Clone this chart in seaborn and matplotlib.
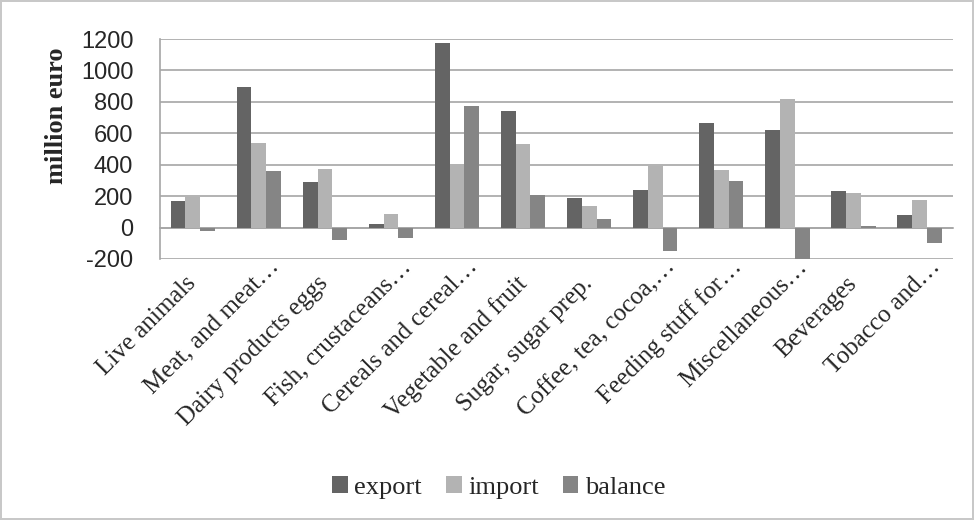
import pandas as pd
import matplotlib
matplotlib.use('Agg')
import matplotlib.pyplot as plt
import matplotlib.transforms as mtransforms
import seaborn as sns
import numpy as np

# product groups (labels as cut off in the original chart)
categories = ['Live animals', 'Meat, and meat…', 'Dairy products eggs',
              'Fish, crustaceans…', 'Cereals and cereal…', 'Vegetable and fruit',
              'Sugar, sugar prep.', 'Coffee, tea, cocoa,…', 'Feeding stuff for…',
              'Miscellaneous…', 'Beverages', 'Tobacco and…']

export_vals = [172, 896, 293, 21, 1177, 741, 187, 238, 665, 622, 232, 81]
import_vals = [195, 540, 370, 83, 404, 531, 134, 389, 367, 820, 221, 174]
balance_vals = [-23, 357, -81, -64, 771, 210, 53, -149, 297, -200, 8, -96]

series_names = ['export', 'import', 'balance']
y_ticks = [-200, 0, 200, 400, 600, 800, 1000, 1200]

'''
long format for seaborn
'''
df = pd.DataFrame({'category': categories,
                   'export': export_vals,
                   'import': import_vals,
                   'balance': balance_vals})
long_df = df.melt(id_vars='category', value_vars=series_names,
                  var_name='series', value_name='value')

sns.set_style('white')
serif = ['Liberation Serif', 'DejaVu Serif']
plt.rcParams['font.family'] = ['Liberation Sans', 'DejaVu Sans']
plt.rcParams['axes.unicode_minus'] = False

fig = plt.figure(figsize=(9.74, 5.2), dpi=100)
fig.patch.set_edgecolor('#c8c8c8')
fig.patch.set_linewidth(1.5)
ax = fig.add_axes([0.164, 0.502, 0.814, 0.423])

colors = {'export': '#646464', 'import': '#b3b3b3', 'balance': '#858585'}
sns.barplot(data=long_df, x='category', y='value', hue='series',
            hue_order=series_names, palette=colors, width=0.67, gap=0,
            edgecolor='none', ax=ax, zorder=3)

ax.set_ylim(-200, 1200)
ax.set_yticks(y_ticks)
ax.set_xlim(-0.5, len(categories) - 0.5)
ax.yaxis.grid(True, color='#a6a6a6', linewidth=1.2, zorder=0)
ax.set_axisbelow(True)

for s in ['top', 'right']:
    ax.spines[s].set_visible(False)
ax.spines['left'].set_color('#a6a6a6')
ax.spines['left'].set_linewidth(1.2)
ax.spines['bottom'].set_position(('data', 0))
ax.spines['bottom'].set_color('#a6a6a6')
ax.spines['bottom'].set_linewidth(1.2)

ax.tick_params(axis='y', length=0, pad=19, labelsize=17)

# tick marks between categories, labels at category centres
ax.set_xticks(np.arange(len(categories) + 1) - 0.5)
ax.set_xticklabels([])
ax.tick_params(axis='x', which='major', direction='out', length=7,
               color='#a6a6a6', width=1.2)
ax.set_xticks(np.arange(len(categories)), minor=True)
ax.set_xticklabels(categories, minor=True, rotation=45, ha='right',
                   va='center', rotation_mode='anchor', family=serif,
                   fontsize=18)
ax.tick_params(axis='x', which='minor', length=0, pad=38)

# truncated labels: the ellipsis sticks out past the category centre
shift = mtransforms.ScaledTranslation(0.17, 0.17, fig.dpi_scale_trans)
for lab in ax.get_xticklabels(minor=True):
    if lab.get_text().endswith('…'):
        lab.set_transform(lab.get_transform() + shift)

ax.set_xlabel('')
ax.set_ylabel('million euro', family=serif, fontweight='bold', fontsize=19)
ax.yaxis.set_label_coords(-0.116, 0.65)

handles, labels = ax.get_legend_handles_labels()
ax.legend(handles, labels, loc='center', bbox_to_anchor=(0.512, 0.062),
          bbox_transform=fig.transFigure, ncol=3, frameon=False,
          prop={'family': serif, 'size': 19}, handlelength=0.6,
          handleheight=0.6, handletextpad=0.25, columnspacing=0.9)

fig.savefig('out.png', dpi=100, edgecolor=fig.get_edgecolor())
